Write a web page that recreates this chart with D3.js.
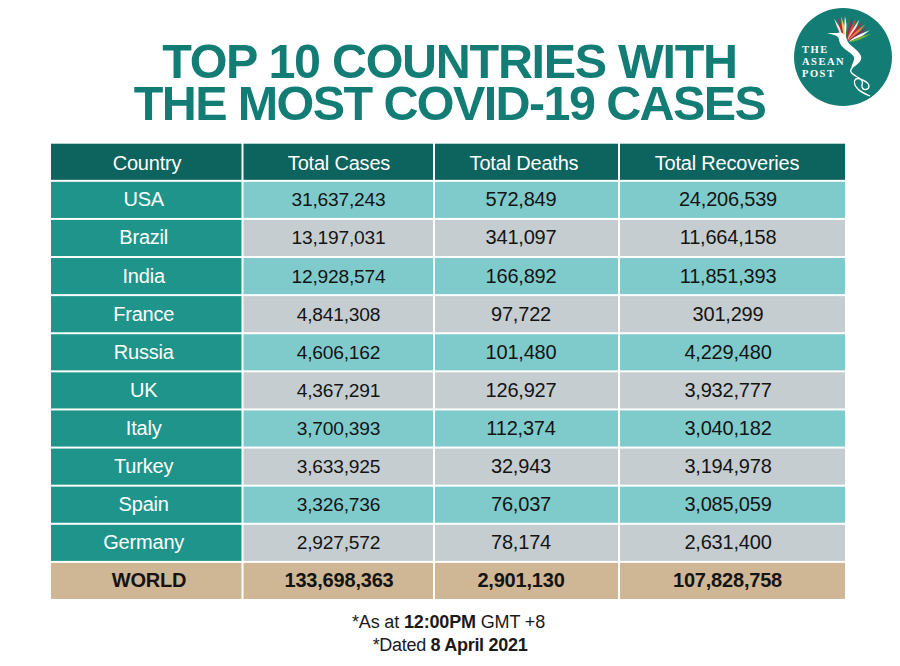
<!DOCTYPE html>
<html>
<head>
<meta charset="utf-8">
<script src="https://cdnjs.cloudflare.com/ajax/libs/d3/7.8.5/d3.min.js"></script>
<style>
html, body { margin: 0; padding: 0; background: #fff; }
svg { display: block; font-family: "Liberation Sans", Arial, sans-serif; }
</style>
</head>
<body>
<svg id="chart" width="900" height="666"></svg>
<script>
var titleLines = ["TOP 10 COUNTRIES WITH", "THE MOST COVID-19 CASES"];
var headers = ["Country", "Total Cases", "Total Deaths", "Total Recoveries"];
var countries = ["USA", "Brazil", "India", "France", "Russia", "UK", "Italy", "Turkey", "Spain", "Germany"];
var totalCases = ["31,637,243", "13,197,031", "12,928,574", "4,841,308", "4,606,162", "4,367,291", "3,700,393", "3,633,925", "3,326,736", "2,927,572"];
var totalDeaths = ["572,849", "341,097", "166,892", "97,722", "101,480", "126,927", "112,374", "32,943", "76,037", "78,174"];
var totalRecoveries = ["24,206,539", "11,664,158", "11,851,393", "301,299", "4,229,480", "3,932,777", "3,040,182", "3,194,978", "3,085,059", "2,631,400"];
var worldRow = ["WORLD", "133,698,363", "2,901,130", "107,828,758"];
var featherColors = ["#f4e9d8", "#c8203a", "#f2c230", "#ffffff", "#2f7d4f", "#8a2a6b", "#d9472b", "#f4e9d8", "#c8203a", "#e58a2b", "#8a2a6b", "#ffffff", "#6fae3f"];

var svg = d3.select("#chart");

// title
svg.append("g").selectAll("text")
	.data(titleLines)
	.join("text")
	.attr("x", 449.5)
	.attr("y", function (d, i) { return 78 + i*42; })
	.attr("text-anchor", "middle")
	.attr("font-size", 48.5)
	.attr("font-weight", "bold")
	.attr("letter-spacing", function (d, i) { return i ? -1.6 : -1.3; })
	.attr("fill", "#137d75")
	.text(function (d) { return d; });

// table
var rowKeys = ["header"].concat(countries, ["WORLD"]);
var y = d3.scaleBand().domain(rowKeys).range([143.7, 599]).paddingInner(0.052).paddingOuter(0);
var colLeft = [51, 243.5, 435, 620];
var colRight = [241.5, 433, 618, 845];

// the labels are not quite centred in their cells
var headerCenters = [147, 339, 524, 727];
var bodyCenters = [143.7, 338.5, 521, 728];
var worldCenters = [149, 339, 521, 727.5];

var rows = [headers].concat(countries.map(function (c, i) {
	return [c, totalCases[i], totalDeaths[i], totalRecoveries[i]];
}), [worldRow]);
var lastRow = rows.length-1;

function cellFill(r, c)
{
	if (r === 0) return "#0d635d";
	if (r === lastRow) return "#cfb795";
	if (c === 0) return "#1f948b";
	return r % 2 === 1 ? "#7fcbcc" : "#c5cdd0";
}

function textFill(r, c)
{
	if (r === 0 || (c === 0 && r < lastRow)) return "#fff";
	return "#141414";
}

function textSize(r, c)
{
	if (r > 0 && r < lastRow && c === 1) return 19.2;
	return 20;
}

var rowGroups = svg.append("g").selectAll("g")
	.data(rows)
	.join("g")
	.attr("transform", function (d, i) { return "translate(0,"+y(rowKeys[i])+")"; });

rowGroups.each(function (row, r) {
	var g = d3.select(this);
	var centers = r === 0 ? headerCenters : (r === lastRow ? worldCenters : bodyCenters);
	var baseline = r === 0 ? 26 : (r === lastRow ? 23.7 : 24.5);
	row.forEach(function (label, c) {
		g.append("rect")
			.attr("x", colLeft[c])
			.attr("y", 0)
			.attr("width", colRight[c]-colLeft[c])
			.attr("height", y.bandwidth())
			.attr("fill", cellFill(r, c));
		g.append("text")
			.attr("x", centers[c])
			.attr("y", baseline)
			.attr("text-anchor", "middle")
			.attr("font-size", textSize(r, c))
			.attr("font-weight", r === lastRow ? "bold" : "normal")
			.attr("letter-spacing", -0.2)
			.attr("fill", textFill(r, c))
			.text(label);
	});
});

// footnote
var notes = [
	{x : 448.5, y : 627.5, parts : [["*As at ", "normal"], ["12:00PM", "bold"], [" GMT +8", "normal"]]},
	{x : 450, y : 651, parts : [["*Dated ", "normal"], ["8 April 2021", "bold"]]}
];
var noteText = svg.append("g").selectAll("text")
	.data(notes)
	.join("text")
	.attr("x", function (d) { return d.x; })
	.attr("y", function (d) { return d.y; })
	.attr("text-anchor", "middle")
	.attr("font-size", 18)
	.attr("letter-spacing", function (d, i) { return i ? -0.3 : -0.15; })
	.attr("fill", "#1a1a1a");
noteText.selectAll("tspan")
	.data(function (d) { return d.parts; })
	.join("tspan")
	.attr("font-weight", function (d) { return d[1]; })
	.text(function (d) { return d[0]; });

// logo
var logo = svg.append("g").attr("transform", "translate(843,57)");
logo.append("circle").attr("r", 49).attr("fill", "#137d75");

// feathers fan out from the bird's back
var feathers = logo.append("g").attr("transform", "translate(3,-14)");
feathers.selectAll("path")
	.data(featherColors)
	.join("path")
	.attr("d", "M3,0 Q8,-3 27,-2 Q12,2 3,0 Z")
	.attr("fill", function (d) { return d; })
	.attr("transform", function (d, i) { return "rotate("+(-112+i*8)+")"; });

logo.append("path")
	.attr("d", "M-16,-24 L-6,-24 C-1,-26 3,-22 4,-17 C5,-12 15,-8 18,-1 C20,5 12,8 9,12 C7,9 12,4 11,0 C9,-5 -3,-8 -4,-17 C-4,-21 -8,-22 -16,-24 Z")
	.attr("fill", "#fff");
logo.append("path")
	.attr("d", "M9,11 C5,15 11,18 16,21 C21,24 26,25 26,29 C26,33 20,34 19,30 C18,27 22,25 17,22 C12,20 9,25 14,31 C17,35 22,37 27,39")
	.attr("fill", "none")
	.attr("stroke", "#fff")
	.attr("stroke-width", 1.3);

logo.selectAll("text.brand")
	.data(["THE", "ASEAN", "POST"])
	.join("text")
	.attr("class", "brand")
	.attr("x", -41)
	.attr("y", function (d, i) { return -4.5 + i*12; })
	.attr("font-family", "'Liberation Serif', serif")
	.attr("font-weight", "bold")
	.attr("font-size", 10.5)
	.attr("letter-spacing", 1.5)
	.attr("fill", "#fff")
	.text(function (d) { return d; });
</script>
</body>
</html>
